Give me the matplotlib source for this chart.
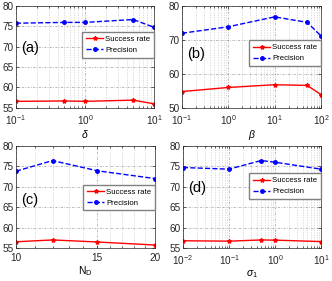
import numpy as np
import matplotlib.pyplot as plt
from matplotlib.ticker import FixedLocator, NullFormatter, ScalarFormatter

plt.rcParams['font.family'] = ['Liberation Sans', 'DejaVu Sans']
plt.rcParams['mathtext.fontset'] = 'custom'
plt.rcParams['mathtext.rm'] = 'Liberation Sans'
plt.rcParams['mathtext.it'] = 'Liberation Sans:italic'
plt.rcParams['mathtext.default'] = 'regular'

# (a) delta
delta = [0.1, 0.5, 1, 5, 10]
succ_a = [56.6, 56.7, 56.6, 56.9, 56.0]
prec_a = [75.7, 75.9, 75.9, 76.6, 74.7]

# (b) beta
beta = [0.1, 1, 10, 50, 100]
succ_b = [54.8, 56.0, 56.8, 56.6, 53.9]
prec_b = [71.9, 73.8, 76.7, 75.1, 71.1]

# (c) N_D
nd = [10, 12, 15, 20]
succ_c = [56.55, 57.0, 56.5, 55.75]
prec_c = [73.8, 76.4, 73.9, 72.0]

# (d) sigma_1
sigma = [0.01, 0.1, 0.5, 1, 10]
succ_d = [56.8, 56.7, 57.0, 56.95, 56.6]
prec_d = [74.7, 74.3, 76.4, 76.0, 74.3]

major_grid = dict(color='0.6', linestyle=(0, (3, 2, 1, 2)), linewidth=0.5)
minor_grid = dict(color='0.78', linestyle=(0, (2, 2)), linewidth=0.45)

fig = plt.figure(figsize=(3.32, 2.81), dpi=100)

def panel(rect, x, s, p, xlim, ylim, yticks, xlabel, tag, tagy, legy):
    ax = fig.add_axes(rect)
    ax.plot(x, s, '-*', color='red', lw=1.0, ms=3, label='Success rate')
    ax.plot(x, p, '--o', color='blue', lw=1.0, ms=2.5, label='Precision')
    ax.set_xscale('log')
    ax.set_xlim(xlim)
    ax.set_ylim(ylim)
    ax.set_yticks(yticks)
    ax.grid(True, which='major', axis='both', **major_grid)
    ax.grid(True, which='minor', axis='x', **minor_grid)
    ax.tick_params(direction='in', top=True, right=True, which='both',
                   length=2, width=0.5, labelsize=7.2, colors='0.15')
    ax.tick_params(axis='y', pad=1.5)
    ax.tick_params(axis='x', pad=3.5)
    ax.tick_params(which='minor', length=1.2)
    for sp in ax.spines.values():
        sp.set_linewidth(0.5)
        sp.set_color('0.15')
    ax.set_xlabel(xlabel, fontsize=7.5, labelpad=1)
    ax.text(0.04, tagy, tag, transform=ax.transAxes, fontsize=10.5, va='center')
    ax.legend(loc='upper right', bbox_to_anchor=(1.0, legy), fontsize=5.6,
              frameon=True, fancybox=False, edgecolor='0.5', framealpha=1,
              handlelength=2.2, handletextpad=0.3, borderpad=0.45,
              labelspacing=0.45, borderaxespad=0)
    return ax

panel([0.048, 0.616, 0.416, 0.364], delta, succ_a, prec_a, (0.1, 10), (55, 80),
      [55, 60, 65, 70, 75, 80], r'$\it{\delta}$', '(a)', 0.59, 0.74)
panel([0.548, 0.616, 0.419, 0.364], beta, succ_b, prec_b, (0.1, 100), (50, 80),
      [50, 60, 70, 80], r'$\it{\beta}$', '(b)', 0.53, 0.66)
axc = panel([0.048, 0.117, 0.419, 0.364], nd, succ_c, prec_c, (10, 20), (55, 80),
            [55, 60, 65, 70, 75, 80], r'N$_D$', '(c)', 0.47, 0.62)
axc.xaxis.set_major_locator(FixedLocator([10, 15, 20]))
axc.xaxis.set_major_formatter(ScalarFormatter())
axc.xaxis.set_minor_locator(FixedLocator([11, 12, 13, 14, 16, 17, 18, 19]))
axc.xaxis.set_minor_formatter(NullFormatter())
panel([0.551, 0.117, 0.416, 0.364], sigma, succ_d, prec_d, (0.01, 10), (55, 80),
      [55, 60, 65, 70, 75, 80], r'$\it{\sigma}_1$', '(d)', 0.59, 0.73)

fig.savefig('out.png', dpi=100)
